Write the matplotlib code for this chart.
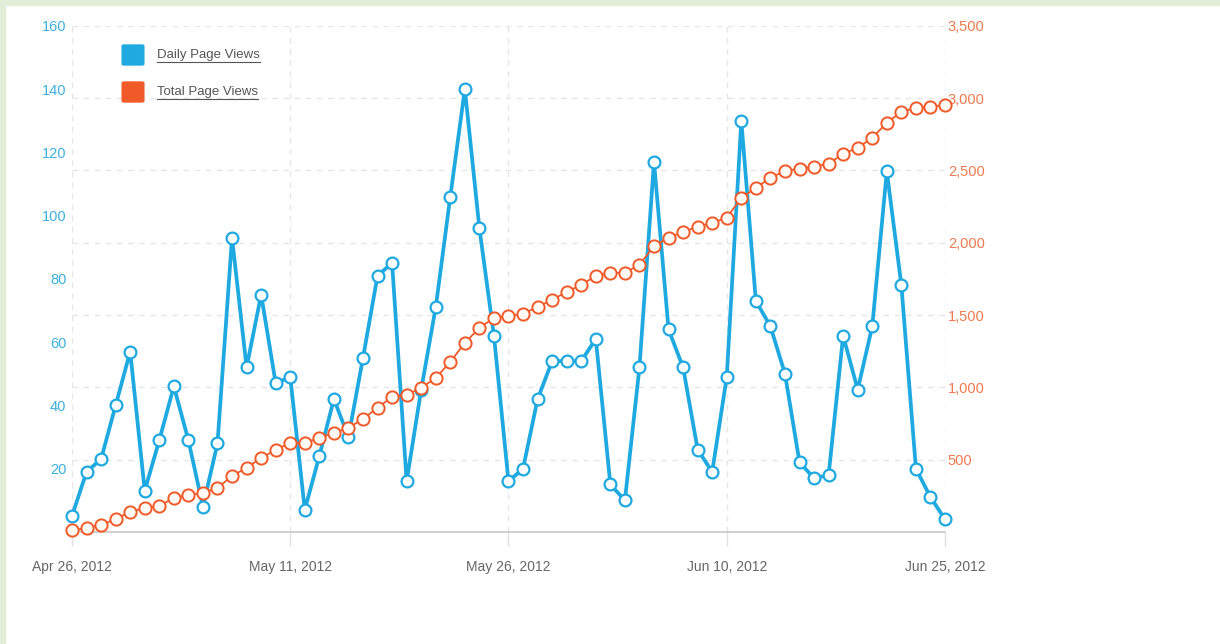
import pandas as pd
import matplotlib
matplotlib.use("Agg")
import matplotlib.pyplot as plt
import matplotlib.dates as mdates
import matplotlib.transforms as mtransforms
from matplotlib.patches import FancyBboxPatch, Rectangle
from matplotlib.lines import Line2D

plt.rcParams["font.family"] = ["Liberation Sans", "DejaVu Sans"]

# data: one point per day
dates = pd.date_range("2012-04-26", "2012-06-25", freq="D")

daily_views = [5, 19, 23, 40, 57, 13, 29, 46, 29, 8, 28,
               93, 52, 75, 47, 49, 7, 24, 42, 30, 55,
               81, 85, 16, 45, 71, 106, 140, 96, 62, 16,
               20, 42, 54, 54, 54, 61, 15, 10, 52, 117,
               64, 52, 26, 19, 49, 130, 73, 65, 50, 22,
               17, 18, 62, 45, 65, 114, 78, 20, 11, 4]

total_views = [10, 28, 48, 90, 138, 166, 180, 235, 256, 270, 304,
               387, 443, 512, 567, 616, 616, 650, 685, 719, 782,
               858, 934, 948, 996, 1065, 1176, 1307, 1411, 1480, 1494,
               1508, 1556, 1605, 1660, 1708, 1771, 1792, 1792, 1847, 1978,
               2034, 2075, 2110, 2137, 2172, 2310, 2379, 2448, 2497, 2511,
               2525, 2545, 2615, 2656, 2725, 2829, 2905, 2933, 2940, 2953]

left_ticks = [20, 40, 60, 80, 100, 120, 140, 160]
right_ticks = [500, 1000, 1500, 2000, 2500, 3000, 3500]
date_ticks = pd.to_datetime(["2012-04-26", "2012-05-11", "2012-05-26",
                             "2012-06-10", "2012-06-25"])
legend_labels = ["Daily Page Views", "Total Page Views"]

BLUE = "#1ea9e1"
ORANGE = "#f05a28"
GRID = "#e6e6e6"

fig = plt.figure(figsize=(12.2, 6.44), dpi=100)
fig.patch.set_facecolor("white")

# light green frame at top and left
fig.add_artist(Rectangle((0, 0.992), 1, 0.008, transform=fig.transFigure,
                         color="#e3eed9", zorder=0))
fig.add_artist(Rectangle((0, 0), 0.004, 1, transform=fig.transFigure,
                         color="#e3eed9", zorder=0))

ax = fig.add_axes([0.059, 0.174, 0.7156, 0.786])
ax2 = ax.twinx()

ax.set_xlim(dates[0], dates[-1])
ax.set_ylim(0, 160)
ax2.set_ylim(0, 3500)

# grid under both series: horizontal lines follow the right axis
hline_tr = mtransforms.blended_transform_factory(ax.transAxes, ax2.transData)
for v in right_ticks:
    ax.add_line(Line2D([0, 1], [v, v], transform=hline_tr, color=GRID,
                       lw=1, ls=(0, (4, 4)), zorder=0))
for d in date_ticks:
    ax.axvline(d, color=GRID, lw=1, ls=(0, (4, 4)), zorder=0)

ax.plot(dates, daily_views, color=BLUE, lw=2.7, marker="o", ms=8.5,
        mfc="white", mec=BLUE, mew=1.6, zorder=3, clip_on=False)
ax2.plot(dates, total_views, color=ORANGE, lw=1.3, marker="o", ms=8.8,
         mfc="#fffaf5", mec=ORANGE, mew=1.4, zorder=4, clip_on=False)

for a in (ax, ax2):
    for s in a.spines.values():
        s.set_visible(False)
ax.spines["bottom"].set_visible(True)
ax.spines["bottom"].set_color("#c8c8c8")
ax.spines["bottom"].set_linewidth(1.2)

ax.set_xticks(date_ticks)
ax.xaxis.set_major_formatter(mdates.DateFormatter("%b %d, %Y"))
ax.tick_params(axis="x", colors="#e0e0e0", length=10, width=1, pad=10,
               labelcolor="#666666", labelsize=10)

ax.set_yticks(left_ticks)
ax.tick_params(axis="y", length=0, pad=4, labelcolor="#3db0e0", labelsize=10.5)
ax2.set_yticks(right_ticks)
ax2.yaxis.set_major_formatter(plt.FuncFormatter(lambda v, p: f"{int(v):,}"))
ax2.tick_params(axis="y", length=0, pad=2, labelcolor="#f07a4f", labelsize=10.5)

# legend with underlined labels
fig_w, fig_h = 1220, 644
for i, (lab, col) in enumerate(zip(legend_labels, [BLUE, ORANGE])):
    yc = 55 + i * 37
    fig.add_artist(FancyBboxPatch((124 / fig_w, (fig_h - yc - 9) / fig_h),
                                  18 / fig_w, 18 / fig_h,
                                  boxstyle="round,pad=0.0015",
                                  transform=fig.transFigure, color=col))
    fig.text(157 / fig_w, (fig_h - yc) / fig_h, lab, fontsize=9.5,
             color="#555555", va="center", ha="left")

fig.canvas.draw()
renderer = fig.canvas.get_renderer()
for t in fig.texts:
    bb = t.get_window_extent(renderer)
    yline = (bb.y0 - 1) / fig_h
    fig.add_artist(Line2D([bb.x0 / fig_w, bb.x1 / fig_w], [yline, yline],
                          transform=fig.transFigure, color="#555555", lw=0.8))

fig.savefig("out.png", dpi=100)
